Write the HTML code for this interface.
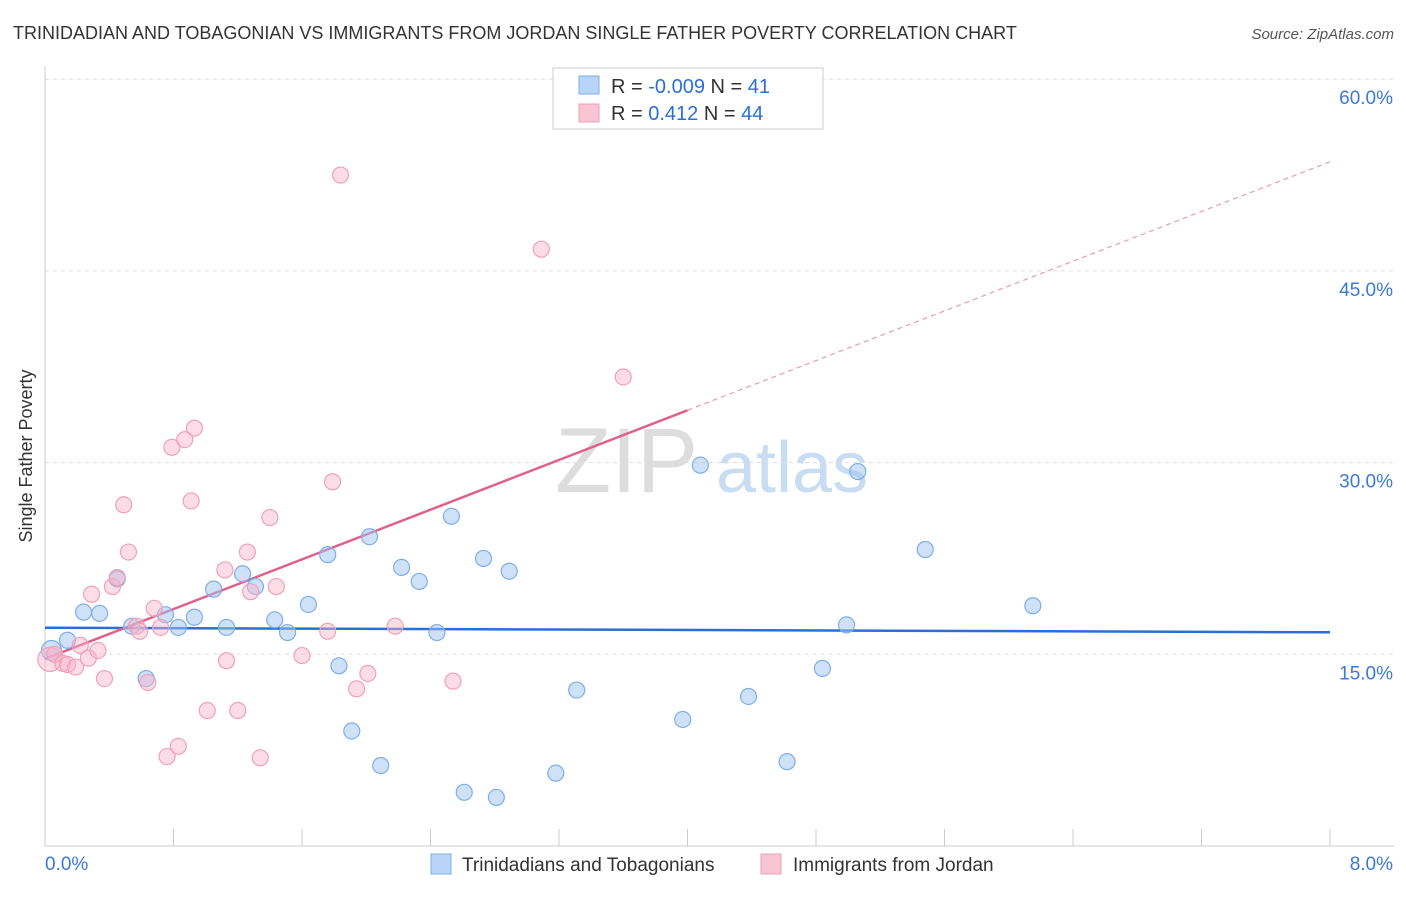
<!DOCTYPE html>
<html><head><meta charset="utf-8"><style>
body{margin:0;background:#fff;font-family:"Liberation Sans",sans-serif}
svg text{font-family:"Liberation Sans",sans-serif}
</style></head><body>
<svg id="chart" width="1406" height="892" xmlns="http://www.w3.org/2000/svg">
<text x="13" y="39" font-size="18" fill="#333">TRINIDADIAN AND TOBAGONIAN VS IMMIGRANTS FROM JORDAN SINGLE FATHER POVERTY CORRELATION CHART</text>
<text x="1394" y="39" font-size="15" fill="#555" font-style="italic" text-anchor="end">Source: ZipAtlas.com</text>
<text x="32" y="456" font-size="18" fill="#333" transform="rotate(-90 32 456)" text-anchor="middle">Single Father Poverty</text>
<g><text x="555" y="492" font-size="92" fill="#ddd" font-family="Liberation Serif,serif">ZIP</text><text x="716" y="492" font-size="72" fill="#c8dcf2">atlas</text></g>
<g id="grid"></g><g id="axes"></g><g id="trend"></g><g id="pts"></g>
<g>
<rect x="553" y="68" width="270" height="61" fill="#fff" stroke="#ccc"/>
<rect x="579" y="76" width="20" height="18" fill="#b8d4f6" stroke="#7eaee8"/>
<rect x="579" y="104" width="20" height="18" fill="#f9c4d4" stroke="#f0a0b8"/>
<text x="611" y="93" font-size="20" fill="#333">R = <tspan fill="#2a6fd6">-0.009</tspan>   N =  <tspan fill="#2a6fd6">41</tspan></text>
<text x="611" y="120" font-size="20" fill="#333">R =    <tspan fill="#2a6fd6">0.412</tspan>   N = <tspan fill="#2a6fd6">44</tspan></text>
</g>
<g>
<rect x="431" y="854" width="20" height="20" fill="#b8d4f6" stroke="#7eaee8"/>
<text x="462" y="871" font-size="19" fill="#333">Trinidadians and Tobagonians</text>
<rect x="761" y="854" width="20" height="20" fill="#f9c4d4" stroke="#f0a0b8"/>
<text x="793" y="871" font-size="19" fill="#333">Immigrants from Jordan</text>
</g>
</svg>
<script>
const yTicks=[15,30,45,60];
const blueX=[0.04,0.14,0.24,0.34,0.45,0.54,0.63,0.75,0.83,0.93,1.05,1.13,1.23,1.31,1.43,1.51,1.64,1.76,1.83,1.91,2.02,2.09,2.22,2.33,2.44,2.53,2.61,2.73,2.81,2.89,3.18,3.31,3.97,4.08,4.38,4.62,4.84,4.99,5.06,5.48,6.15];
const blueY=[15.3,16.1,18.3,18.2,20.9,17.2,13.1,18.1,17.1,17.9,20.1,17.1,21.3,20.3,17.7,16.7,18.9,22.8,14.1,9.0,24.2,6.3,21.8,20.7,16.7,25.8,4.2,22.5,3.8,21.5,5.7,12.2,9.9,29.8,11.7,6.6,13.9,17.3,29.3,23.2,18.8];
const pinkX=[0.03,0.06,0.11,0.14,0.19,0.22,0.27,0.29,0.33,0.37,0.42,0.45,0.49,0.52,0.57,0.59,0.64,0.68,0.72,0.76,0.79,0.83,0.87,0.91,0.93,1.01,1.13,1.12,1.20,1.26,1.28,1.34,1.40,1.44,1.60,1.76,1.79,1.84,1.94,2.01,2.18,2.54,3.09,3.60];
const pinkY=[14.6,15.0,14.3,14.2,14.0,15.7,14.7,19.7,15.3,13.1,20.3,21.0,26.7,23.0,17.2,16.8,12.8,18.6,17.1,7.0,31.2,7.8,31.8,27.0,32.7,10.6,14.5,21.6,10.6,23.0,19.9,6.9,25.7,20.3,14.9,16.8,28.5,52.5,12.3,13.5,17.2,12.9,46.7,36.7];
const NS='http://www.w3.org/2000/svg';
const X=v=>45+v/8*1285, Y=v=>846-v/15*191.7;
function mk(p,t,a){const e=document.createElementNS(NS,t);for(const k in a)e.setAttribute(k,a[k]);document.getElementById(p).appendChild(e);return e;}
yTicks.forEach(t=>{
 const l=mk('grid','line',{x1:45,x2:1394,y1:Y(t),y2:Y(t),stroke:'#ddd','stroke-dasharray':'4,4'});
 
 
 const tx=mk('grid','text',{x:1393,y:Y(t)+25,'font-size':19,fill:'#3b78d8','text-anchor':'end'});tx.textContent=t.toFixed(1)+'%';
 
 
});
mk('axes','line',{x1:45,x2:45,y1:66,y2:846,stroke:'#ccc'});
mk('axes','line',{x1:45,x2:1394,y1:846,y2:846,stroke:'#ccc'});
for(let i=0;i<=10;i++){const t=mk('axes','line',{x1:X(i*0.8),x2:X(i*0.8),y1:829,y2:846,stroke:'#ccc'});
 
 }
[[0,'0.0%','start',45],[8,'8.0%','end',1393]].forEach(a=>{const t=mk('axes','text',{x:a[3],y:870,'font-size':19,fill:'#3b78d8','text-anchor':a[2]});t.textContent=a[1];
 
 });
function fit(xs,ys){const n=xs.length,mx=xs.reduce((a,b)=>a+b)/n,my=ys.reduce((a,b)=>a+b)/n;let sxy=0,sxx=0;xs.forEach((x,i)=>{sxy+=(x-mx)*(ys[i]-my);sxx+=(x-mx)**2});const b=sxy/sxx;return [my-b*mx,b];}
const [ba,bb]=fit(blueX,blueY);
let bl=mk('trend','line',{x1:X(0),y1:Y(ba),x2:X(8),y2:Y(ba+bb*8),stroke:'#2a6fd6','stroke-width':2.5});


const [pa,pb]=fit(pinkX,pinkY);
let pl=mk('trend','line',{x1:X(0),y1:Y(pa),x2:X(4),y2:Y(pa+pb*4),stroke:'#e0608a','stroke-width':2.5});


let pd=mk('trend','line',{x1:X(4),y1:Y(pa+pb*4),x2:X(8),y2:Y(pa+pb*8),stroke:'#e89ab4','stroke-width':1.2,'stroke-dasharray':'5,4'});


blueX.forEach((x,i)=>{const c=mk('pts','circle',{cx:X(x),cy:Y(blueY[i]),r:i==0?10:8,fill:'rgba(160,196,240,0.5)',stroke:'#7eaee8','stroke-width':1.2});
 
 });
pinkX.forEach((x,i)=>{const c=mk('pts','circle',{cx:X(x),cy:Y(pinkY[i]),r:i==0?12:8,fill:'rgba(248,180,200,0.45)',stroke:'#f0a0b8','stroke-width':1.2});
 
 });
</script>
</body></html>
